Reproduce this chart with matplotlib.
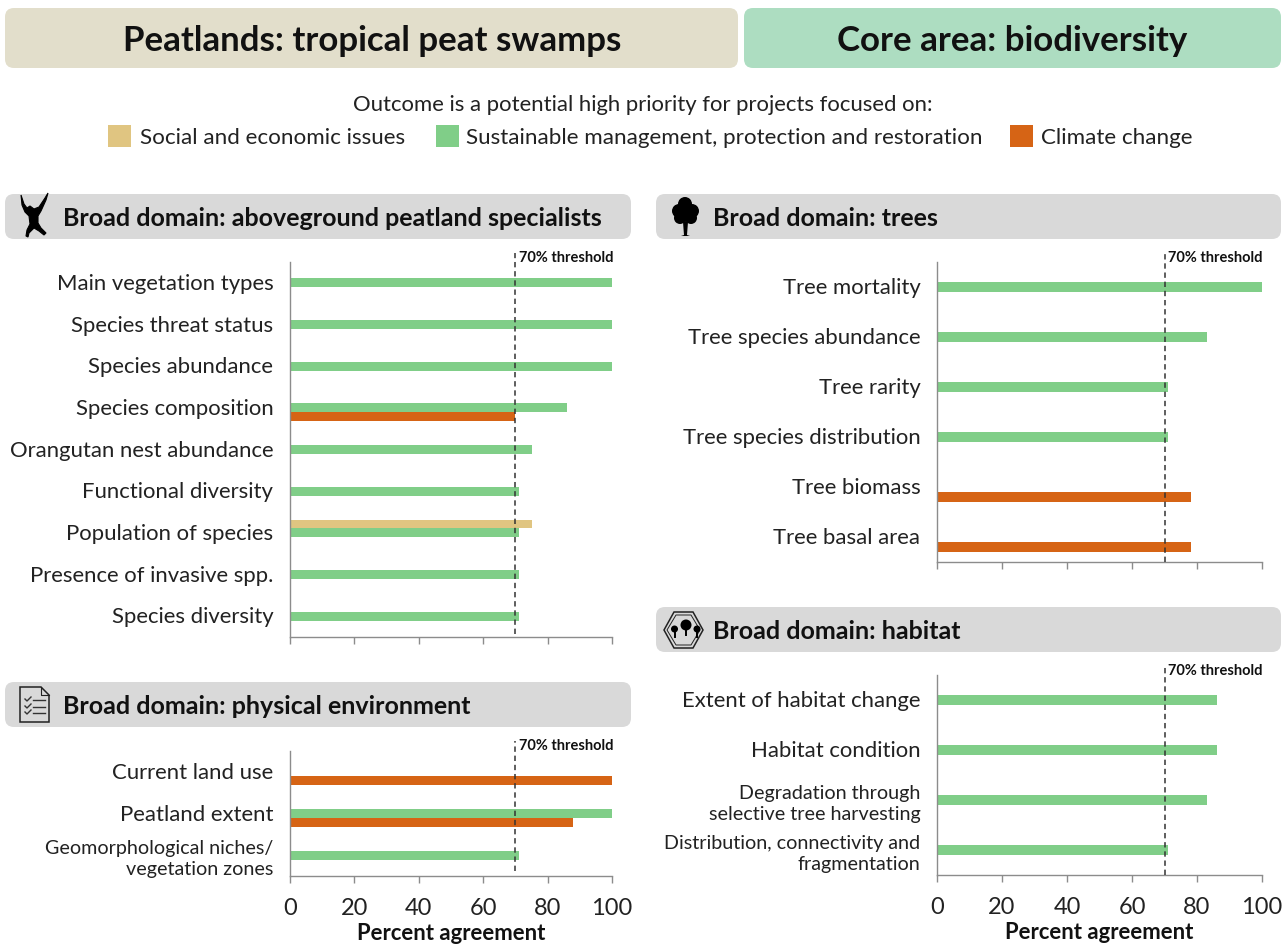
import matplotlib
matplotlib.use("Agg")
import matplotlib.pyplot as plt
from matplotlib.patches import FancyBboxPatch, Rectangle, Circle, Polygon
from matplotlib.transforms import ScaledTranslation

plt.rcParams["font.family"] = ["Lato", "DejaVu Sans"]

W, H = 1286, 944

SAND = "#E0C581"
GREEN = "#80CE88"
ORANGE = "#D66415"
AXIS_GREY = "#8C8C8C"

# Aboveground peatland specialists
peat_labels = [
    "Main vegetation types",
    "Species threat status",
    "Species abundance",
    "Species composition",
    "Orangutan nest abundance",
    "Functional diversity",
    "Population of species",
    "Presence of invasive spp.",
    "Species diversity",
]
peat_social = [0, 0, 0, 0, 0, 0, 75, 0, 0]
peat_manage = [100, 100, 100, 86, 75, 71, 71, 71, 71]
peat_climate = [0, 0, 0, 70, 0, 0, 0, 0, 0]

# Physical environment
phys_labels = ["Current land use", "Peatland extent", "Geomorphological niches/\nvegetation zones"]
phys_social = [0, 0, 0]
phys_manage = [0, 100, 71]
phys_climate = [100, 88, 0]

# Trees
tree_labels = [
    "Tree mortality",
    "Tree species abundance",
    "Tree rarity",
    "Tree species distribution",
    "Tree biomass",
    "Tree basal area",
]
tree_social = [0, 0, 0, 0, 0, 0]
tree_manage = [100, 83, 71, 71, 0, 0]
tree_climate = [0, 0, 0, 0, 78, 78]

# Habitat
hab_labels = [
    "Extent of habitat change",
    "Habitat condition",
    "Degradation through\nselective tree harvesting",
    "Distribution, connectivity and\nfragmentation",
]
hab_social = [0, 0, 0, 0]
hab_manage = [86, 86, 83, 71]
hab_climate = [0, 0, 0, 0]

threshold = 70
ticks = [0, 20, 40, 60, 80, 100]

fig = plt.figure(figsize=(W / 100, H / 100), dpi=100)

# Overlay in pixel coordinates for banners, legend and icons
bg = fig.add_axes([0, 0, 1, 1])
bg.set_xlim(0, W)
bg.set_ylim(H, 0)
bg.axis("off")


def box(x0, y0, x1, y1, color):
    bg.add_patch(FancyBboxPatch((x0 + 9, y0 + 9), x1 - x0 - 18, y1 - y0 - 18,
                                boxstyle="round,pad=9,rounding_size=9", fc=color, ec="none"))


box(5, 8, 738, 68, "#E2DECB")
box(744, 8, 1281, 68, "#ADDDC1")
bg.text(372, 41, "Peatlands: tropical peat swamps", fontsize=25.1, fontweight="bold", ha="center", va="center", color="#111111")
bg.text(1012, 41, "Core area: biodiversity", fontsize=25.1, fontweight="bold", ha="center", va="center", color="#111111")

bg.text(643, 105, "Outcome is a potential high priority for projects focused on:", fontsize=15.9, ha="center", va="center", color="#222222")
legend_items = [
    (108, 140, SAND, "Social and economic issues"),
    (436, 466, GREEN, "Sustainable management, protection and restoration"),
    (1010, 1041, ORANGE, "Climate change"),
]
for sx, tx, col, txt in legend_items:
    bg.add_patch(Rectangle((sx, 125), 23, 22, fc=col, ec="none"))
    bg.text(tx, 138, txt, fontsize=16.1, va="center", color="#222222")

headers = [
    (5, 194, 631, 239, "Broad domain: aboveground peatland specialists", 63),
    (656, 194, 1281, 239, "Broad domain: trees", 713),
    (5, 682, 631, 727, "Broad domain: physical environment", 63),
    (656, 607, 1281, 652, "Broad domain: habitat", 713),
]
for x0, y0, x1, y1, txt, tx in headers:
    box(x0, y0, x1, y1, "#D9D9D9")
    bg.text(tx, (y0 + y1) / 2 + 2, txt, fontsize=18, fontweight="bold", va="center", color="#111111")

# Orangutan silhouette
bg.add_patch(Polygon([(21, 195), (24, 204), (27, 208), (30, 206), (34, 209), (39, 207), (45, 198), (48, 193),
                      (46, 200), (41, 211), (38, 216), (38, 223), (41, 228), (46, 233), (44, 235), (39, 231),
                      (34, 228), (29, 233), (28, 237), (26, 236), (27, 230), (30, 224), (29, 216), (25, 212),
                      (22, 205)], fc="black", ec="black", lw=0.8))

# Tree icon
for cx, cy, r in [(685, 204, 7), (679, 211, 7), (692, 211, 7), (680, 218, 6), (691, 218, 6), (685, 214, 8)]:
    bg.add_patch(Circle((cx, cy), r, fc="black", ec="none"))
bg.add_patch(Polygon([(683, 222), (688, 222), (687, 235), (690, 236), (681, 236), (684, 235)], fc="black", ec="none"))

# Checklist icon
bg.add_patch(Polygon([(20, 687), (41, 687), (49, 695), (49, 722), (20, 722)], fc="none", ec="#222222", lw=1.1))
bg.plot([41, 41, 49], [687, 695, 695], color="#222222", lw=0.8)
for yy in [700, 707, 713]:
    bg.plot([33, 45], [yy, yy], color="#333333", lw=1)
    bg.plot([25, 27, 31], [yy - 1, yy + 1, yy - 3], color="#333333", lw=1)

# Habitat hexagon icon
bg.add_patch(Polygon([(664, 630), (674, 612), (693, 612), (703, 630), (693, 648), (674, 648)], fc="none", ec="#222222", lw=1.1))
bg.add_patch(Polygon([(667, 630), (676, 615), (691, 615), (700, 630), (691, 645), (676, 645)], fc="none", ec="#222222", lw=0.7))
for cx, cy, r in [(674.5, 629, 3.5), (686, 625, 5.5), (697, 629, 3.5)]:
    bg.add_patch(Circle((cx, cy), r, fc="black", ec="none"))
    bg.plot([cx, cx], [cy, cy + r + 4], color="black", lw=1.4)


def panel(labels, social, manage, climate, x0, x1, y0, y1, tick_labels, line_top, line_bottom):
    ax = fig.add_axes([x0 / W, 1 - y1 / H, (x1 - x0) / W, (y1 - y0) / H])
    ax.patch.set_alpha(0)
    n = len(labels)
    step = (y1 - y0) / n
    bar_h = 8.8 if step < 45 else 10
    pos = list(range(n))
    h = bar_h / step
    ax.barh([p - h for p in pos], social, height=h, color=SAND)
    ax.barh(pos, manage, height=h, color=GREEN)
    ax.barh([p + h for p in pos], climate, height=h, color=ORANGE)
    ax.set_xlim(0, 100)
    ax.set_ylim(n - 0.5, -0.5)
    ax.set_yticks(pos)
    ax.set_yticklabels(labels, color="#222222", linespacing=1.3)
    ax.tick_params(axis="y", length=0, pad=12)
    # two-line labels are set smaller; single-line ones sit a touch high
    shift = ScaledTranslation(0, 0.5 / 72, fig.dpi_scale_trans)
    for lab in ax.get_yticklabels():
        lab.set_fontsize(14.2 if "\n" in lab.get_text() else 15.9)
        if "\n" not in lab.get_text():
            lab.set_transform(lab.get_transform() + shift)
    ax.set_xticks(ticks)
    ax.tick_params(axis="x", length=5, width=1, color=AXIS_GREY, labelsize=17, pad=10.5, labelcolor="#222222")
    if not tick_labels:
        ax.set_xticklabels([])
    else:
        ax.set_xlabel("Percent agreement", fontsize=15.9, fontweight="bold", labelpad=3, color="#111111")
    for side in ["top", "right"]:
        ax.spines[side].set_visible(False)
    for side in ["left", "bottom"]:
        ax.spines[side].set_color(AXIS_GREY)
        ax.spines[side].set_linewidth(1)
    # threshold line runs a little above the axes
    ya = (y1 - line_top) / (y1 - y0)
    yb = (y1 - line_bottom) / (y1 - y0)
    ax.plot([threshold, threshold], [yb, ya], transform=ax.get_xaxis_transform(), color="#333333",
            lw=1.1, ls=(0, (3.5, 2.5)), clip_on=False, zorder=5)
    yt = (y1 - line_top - 5) / (y1 - y0)
    ax.text(threshold + 1, yt, "70% threshold", transform=ax.get_xaxis_transform(), fontsize=10.5,
            fontweight="bold", va="center", ha="left", color="#111111", clip_on=False)
    return ax


panel(peat_labels, peat_social, peat_manage, peat_climate, 290, 612, 262, 637, False, 253, 634)
panel(phys_labels, phys_social, phys_manage, phys_climate, 290, 612, 751, 876, True, 741, 871)
panel(tree_labels, tree_social, tree_manage, tree_climate, 937, 1262, 262, 562, False, 253, 562)
panel(hab_labels, hab_social, hab_manage, hab_climate, 937, 1262, 675, 875, True, 666, 875)

plt.savefig("out.png", dpi=100)
